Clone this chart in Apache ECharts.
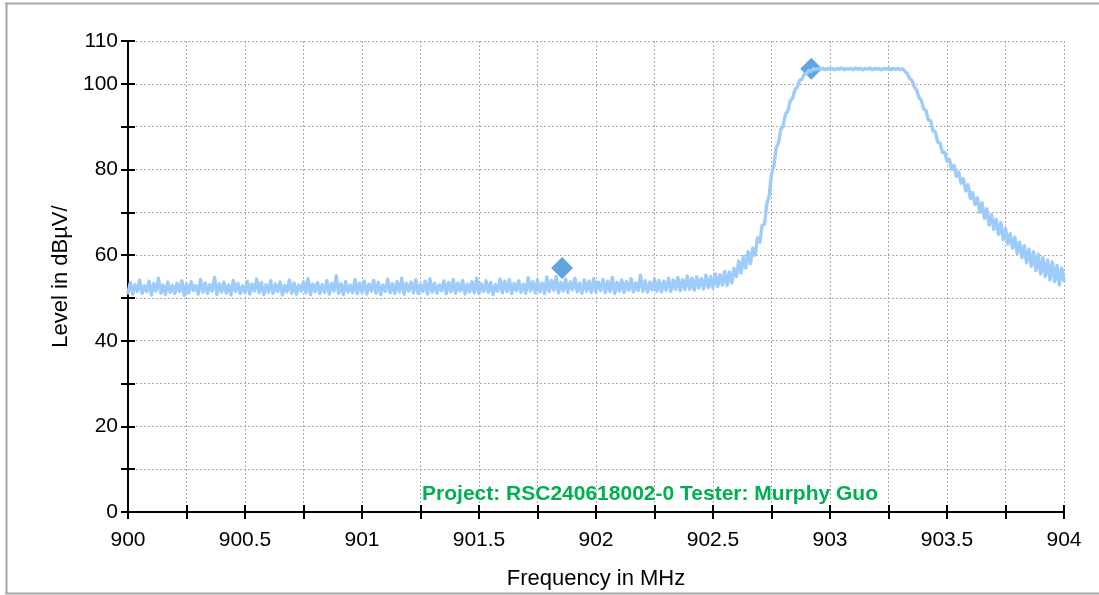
<!DOCTYPE html>
<html>
<head>
<meta charset="utf-8">
<script src="https://cdn.jsdelivr.net/npm/echarts@6/dist/echarts.min.js"></script>
<style>
  html, body { margin: 0; padding: 0; background: #ffffff; }
  #chart { width: 1099px; height: 595px; }
</style>
</head>
<body>
<div id="chart"></div>
<script>
// Receiver sweep, 900–904 MHz, one reading every 10 kHz
const freqStart = 900;
const freqStep = 0.01;
const level = [
  51.2,53.6,50.9,53.1,51.5,54.2,51.0,52.8,51.4,53.9,50.7,53.3,51.6,54.6,51.1,53.0,50.8,53.7,51.3,52.9,
  51.0,53.4,51.5,54.0,50.6,53.2,51.2,53.8,51.7,52.9,50.9,54.3,51.3,53.5,51.0,53.1,51.6,54.8,50.8,53.3,
  51.4,53.7,51.1,53.0,50.7,54.1,51.5,53.4,51.0,52.8,51.3,53.9,50.9,53.2,51.6,54.4,51.2,53.6,50.8,53.1,
  51.3,54.0,51.0,53.3,51.5,53.7,50.7,52.9,51.4,54.2,51.1,53.5,50.9,53.0,51.6,53.8,51.2,54.5,50.8,53.2,
  51.5,53.6,51.0,53.1,51.3,54.0,50.9,53.4,51.6,55.2,51.1,53.3,50.8,53.8,51.4,53.0,51.2,54.3,51.0,53.5,
  51.3,53.9,50.9,53.2,51.6,54.1,51.1,53.6,50.8,53.0,51.5,54.4,51.2,53.3,51.0,53.8,51.4,54.6,50.9,53.4,
  51.6,53.7,51.2,54.2,51.0,53.1,51.5,53.9,50.9,54.5,51.3,53.4,51.1,53.0,51.7,54.0,51.0,53.6,51.4,54.3,
  51.1,53.5,51.6,54.1,50.9,53.2,51.4,53.8,51.2,54.6,51.0,53.3,51.5,54.0,51.3,53.6,50.8,53.1,51.6,54.4,
  51.2,53.9,51.5,54.3,51.0,53.4,51.7,54.0,51.3,53.2,51.1,54.7,51.6,53.8,51.2,54.2,51.4,53.5,51.0,54.9,
  51.5,54.1,51.8,55.0,51.2,53.6,51.6,54.4,51.3,53.8,51.9,54.6,51.4,53.5,51.1,54.2,51.6,53.9,51.3,54.5,
  51.4,53.7,51.7,54.3,51.2,53.9,51.5,54.8,51.0,53.6,51.6,54.2,51.3,53.8,51.8,54.5,51.4,53.5,51.7,55.3,
  51.5,54.0,51.3,53.7,51.9,54.4,51.6,54.1,51.4,53.9,51.8,54.6,51.5,54.2,52.0,54.8,51.7,54.3,52.0,55.1,
  52.0,54.6,51.8,54.9,52.3,54.5,52.1,55.3,52.4,55.0,52.3,55.6,52.7,55.4,53.0,56.2,52.9,56.0,53.5,56.9,
  55.0,58.6,55.8,59.6,57.0,60.8,58.0,61.6,60.0,64.0,63.0,67.0,67.2,72.0,73.8,79.0,80.8,85.0,86.2,89.4,
  90.2,93.0,93.6,96.0,96.6,98.6,99.2,100.8,101.1,102.3,102.4,103.1,103.0,103.5,103.3,103.6,103.4,103.6,103.3,103.6,
  103.4,103.6,103.3,103.6,103.4,103.7,103.3,103.6,103.4,103.6,103.3,103.7,103.4,103.6,103.3,103.6,103.4,103.7,103.3,103.6,
  103.4,103.6,103.3,103.6,103.4,103.7,103.3,103.6,103.4,103.6,103.3,103.5,102.9,102.4,101.3,100.8,99.3,98.6,96.8,96.2,
  94.2,93.8,91.6,91.4,89.0,88.8,86.4,86.2,84.0,84.0,82.0,82.4,80.0,81.0,78.4,79.4,76.8,77.8,75.0,76.4,
  73.2,74.6,71.8,73.4,70.0,72.2,68.6,70.8,67.0,69.4,66.0,68.4,64.8,67.6,63.6,66.2,62.6,65.0,61.6,64.2,
  60.4,63.0,59.4,62.2,58.2,61.4,57.4,60.8,56.4,60.2,55.6,59.4,55.0,58.8,54.2,58.4,53.8,57.6,53.0,57.0,
  54.0
];

// Marker positions (MHz, dBµV)
const markerFreq = [901.855, 902.92];
const markerLevel = [57, 103.5];

// Axis ranges and labelled ticks
const xMin = 900, xMax = 904, xTick = 0.25;
const yMin = 0, yMax = 110, yTick = 10;
const yLabelled = [0, 20, 40, 60, 80, 100, 110];

const caption = 'Project: RSC240618002-0 Tester: Murphy Guo';

const trace = level.map((v, i) => [freqStart + i * freqStep, v]);
const markers = markerFreq.map((f, i) => [f, markerLevel[i]]);

const FONT = '"Liberation Sans", Arial, sans-serif';
const gridDots = { color: '#ababab', width: 1, type: [2, 2] };

const chart = echarts.init(document.getElementById('chart'), null, { renderer: 'canvas' });
chart.setOption({
  animation: false,
  backgroundColor: '#ffffff',
  grid: { left: 128, right: 35, top: 41, bottom: 81, containLabel: false },
  xAxis: [
    {
      type: 'value', min: xMin, max: xMax, interval: xTick,
      name: 'Frequency in MHz', nameLocation: 'middle', nameGap: 56,
      nameTextStyle: { color: '#000', fontSize: 22, fontFamily: FONT },
      axisLine: { show: true, lineStyle: { color: '#000', width: 2 } },
      axisTick: { show: true, inside: false, length: 7, lineStyle: { color: '#000', width: 2 } },
      axisLabel: {
        color: '#000', fontSize: 21, fontFamily: FONT, margin: 18,
        formatter: v => (Math.round(v * 4) % 2 === 0 ? String(Math.round(v * 10) / 10) : '')
      },
      splitLine: { show: true, lineStyle: gridDots }
    },
    {
      type: 'value', min: xMin, max: xMax, interval: xTick, position: 'bottom',
      axisLine: { show: false },
      axisTick: { show: true, inside: true, length: 7, lineStyle: { color: '#000', width: 2 } },
      axisLabel: { show: false },
      splitLine: { show: false }
    }
  ],
  yAxis: [
    {
      type: 'value', min: yMin, max: yMax, interval: yTick,
      name: 'Level in dBµV/', nameLocation: 'middle', nameGap: 54, nameRotate: 90,
      nameTextStyle: { color: '#000', fontSize: 22, fontFamily: FONT },
      axisLine: { show: true, lineStyle: { color: '#000', width: 2 } },
      axisTick: { show: true, inside: false, length: 7, lineStyle: { color: '#000', width: 2 } },
      axisLabel: {
        color: '#000', fontSize: 21, fontFamily: FONT, margin: 10,
        formatter: v => (yLabelled.includes(v) ? String(v) : '')
      },
      splitLine: { show: true, lineStyle: gridDots }
    },
    {
      type: 'value', min: yMin, max: yMax, interval: yTick, position: 'left',
      axisLine: { show: false },
      axisTick: { show: true, inside: true, length: 7, lineStyle: { color: '#000', width: 2 } },
      axisLabel: { show: false },
      splitLine: { show: false }
    }
  ],
  series: [
    {
      name: 'Markers',
      type: 'scatter',
      data: markers,
      symbol: 'diamond',
      symbolSize: 22,
      itemStyle: { color: '#3a8fd8' },
      z: 1
    },
    {
      name: 'Level',
      type: 'line',
      data: trace,
      showSymbol: false,
      sampling: false,
      lineStyle: { color: '#9dcbfa', width: 3.4, join: 'round', cap: 'round' },
      z: 2
    }
  ],
  graphic: [
    {
      type: 'text', x: 650, y: 494, z: 10,
      style: {
        text: caption, fill: '#00b050', font: 'bold 21px ' + FONT,
        textAlign: 'center', textVerticalAlign: 'middle'
      }
    },
    { type: 'line', shape: { x1: 5, y1: 3.5, x2: 1099, y2: 3.5 }, style: { stroke: '#a6a6a6', lineWidth: 2 } },
    { type: 'line', shape: { x1: 6.5, y1: 3, x2: 6.5, y2: 594 }, style: { stroke: '#a6a6a6', lineWidth: 2 } },
    { type: 'line', shape: { x1: 5, y1: 593.5, x2: 1099, y2: 593.5 }, style: { stroke: '#a6a6a6', lineWidth: 2 } }
  ]
});
</script>
</body>
</html>
